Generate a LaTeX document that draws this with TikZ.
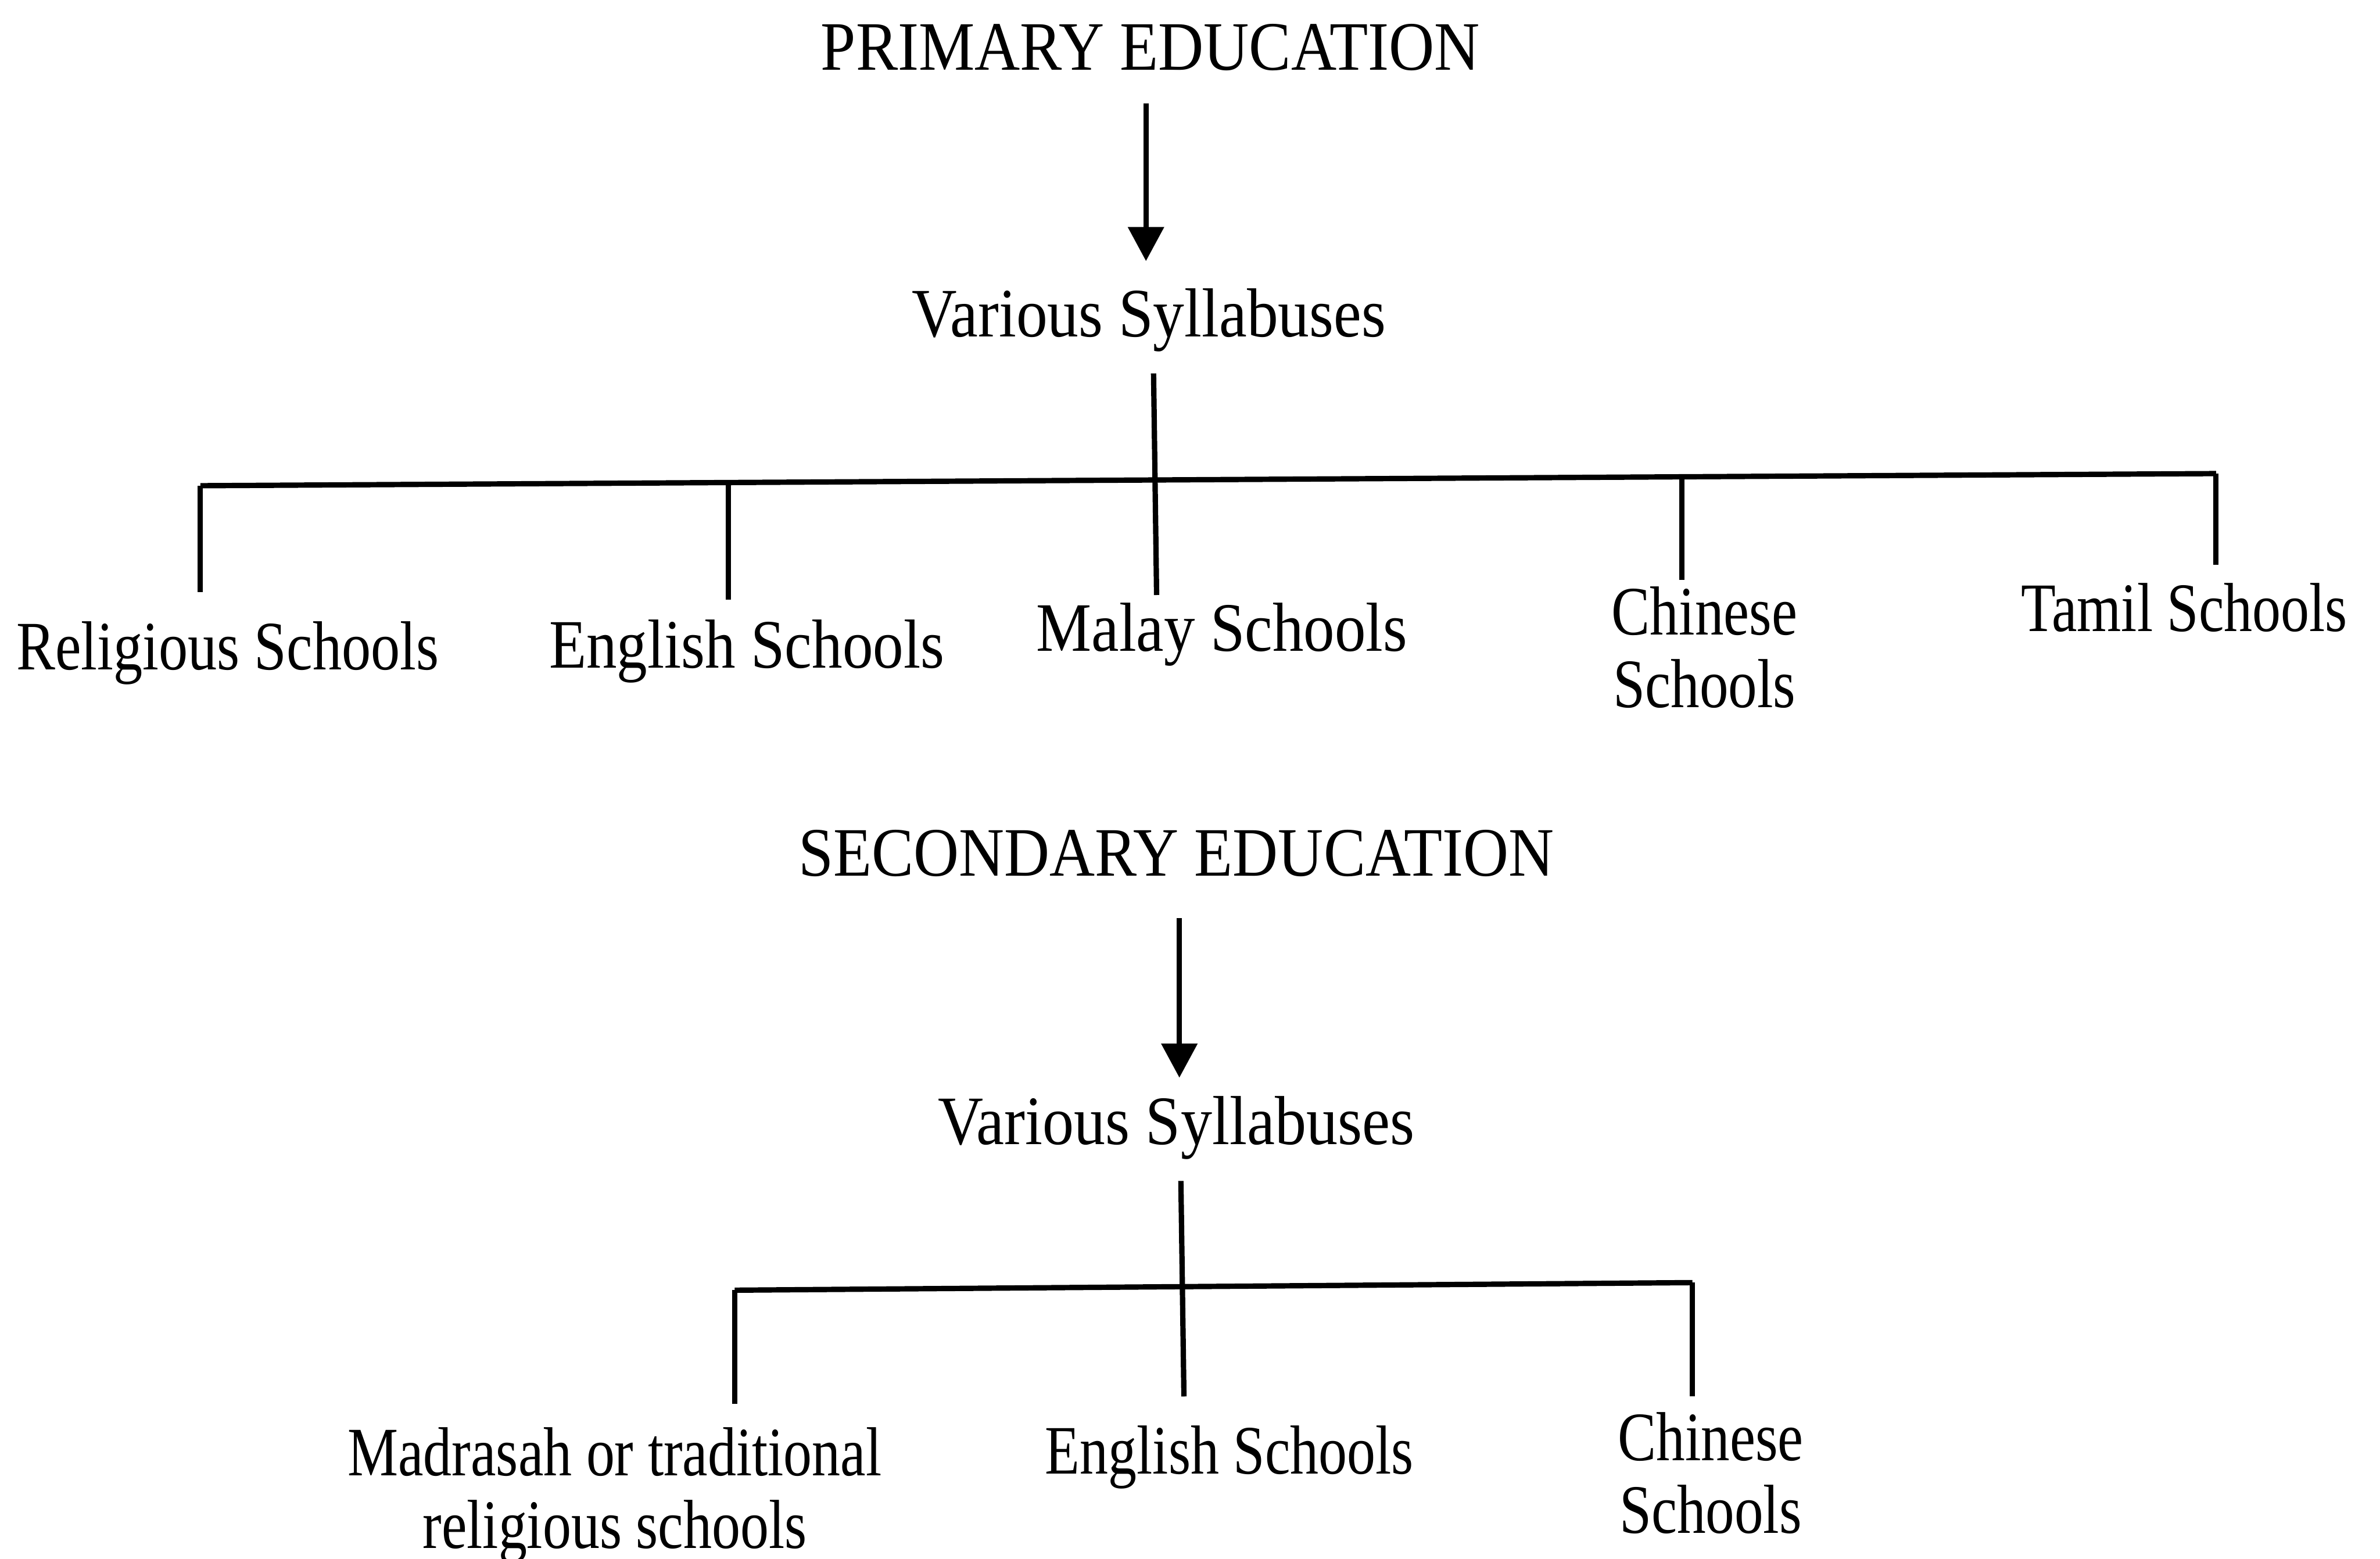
\documentclass[tikz,border=0pt]{standalone}
\usepackage{graphicx}
\usepackage{fontspec}
\setmainfont{Liberation Serif}
\usetikzlibrary{arrows.meta}
% horizontally condensed text
\newcommand\squeezed[2]{\scalebox{#1}[1]{#2}}
\begin{document}
\begin{tikzpicture}[x=0.01cm,y=-0.01cm,
  lbl/.style={inner sep=0pt, anchor=base, font=\fontsize{13}{13.6}\selectfont, align=center},
  wire/.style={line width=1pt},
  arr/.style={wire, -{Triangle[width=6.6pt,length=6.4pt]}}]
\useasboundingbox (0,0) rectangle (1568,1027);

% ---------- primary education ----------
\node[lbl] (pe)   at (758,46)   {\squeezed{0.907}{PRIMARY EDUCATION}};
\node[lbl] (vs1)  at (757,222)  {\squeezed{0.90}{Various Syllabuses}};
\node[lbl] (rel)  at (150,441)  {\squeezed{0.84}{Religious Schools}};
\node[lbl] (eng1) at (492,440)  {\squeezed{0.88}{English Schools}};
\node[lbl] (mal)  at (805,429)  {\squeezed{0.895}{Malay Schools}};
\node[lbl] (chi1) at (1123,466) {\squeezed{0.83}{Chinese}\\\squeezed{0.83}{Schools}};
\node[lbl] (tam)  at (1439,416) {\squeezed{0.82}{Tamil Schools}};

\coordinate (a1s) at (755,68);
\coordinate (a1e) at (755,172);
\draw[arr] (a1s) -- (a1e);

% branch bar and drops
\coordinate (s1t) at (760,246);
\coordinate (s1b) at (762,392);
\coordinate (b1L) at (132,320);
\coordinate (b1R) at (1460,312);
\coordinate (b1e) at (480,317.9);
\coordinate (b1c) at (1108,314.3);
\coordinate (d1a) at (132,390);
\coordinate (d1b) at (480,395);
\coordinate (d1d) at (1108,382);
\coordinate (d1e) at (1460,372);
\draw[wire] (s1t) -- (s1b);
\draw[wire] (b1L) -- (b1R);
\draw[wire] (b1L) -- (d1a);
\draw[wire] (b1e) -- (d1b);
\draw[wire] (b1c) -- (d1d);
\draw[wire] (b1R) -- (d1e);

% ---------- secondary education ----------
\node[lbl] (se)   at (775,577)  {\squeezed{0.905}{SECONDARY EDUCATION}};
\node[lbl] (vs2)  at (775,754)  {\squeezed{0.905}{Various Syllabuses}};
\node[lbl] (mad)  at (405,1020) {\squeezed{0.82}{Madrasah or traditional}\\\squeezed{0.82}{religious schools}};
\node[lbl] (eng2) at (810,971)  {\squeezed{0.82}{English Schools}};
\node[lbl] (chi2) at (1127,1010) {\squeezed{0.83}{Chinese}\\\squeezed{0.83}{Schools}};

\coordinate (a2s) at (777,605);
\coordinate (a2e) at (777,710);
\draw[arr] (a2s) -- (a2e);

\coordinate (s2t) at (778,778);
\coordinate (s2b) at (780,920);
\coordinate (b2L) at (484,850);
\coordinate (b2R) at (1115,845);
\coordinate (d2a) at (484,925);
\coordinate (d2c) at (1115,920);
\draw[wire] (s2t) -- (s2b);
\draw[wire] (b2L) -- (b2R);
\draw[wire] (b2L) -- (d2a);
\draw[wire] (b2R) -- (d2c);
\end{tikzpicture}
\end{document}
